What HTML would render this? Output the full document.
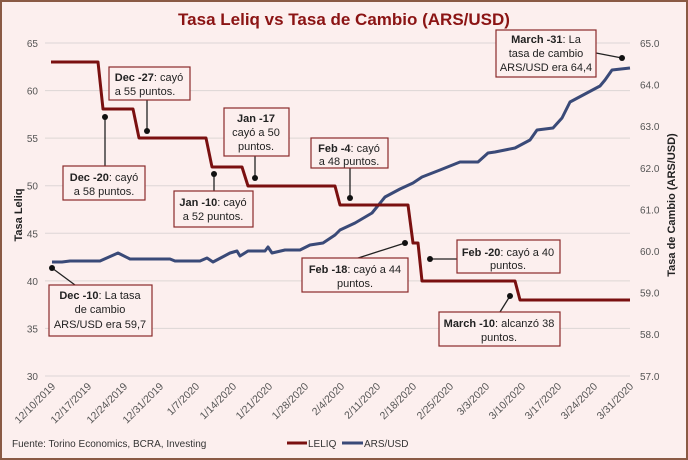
<!DOCTYPE html>
<html><head><meta charset="utf-8"><style>
body{margin:0;background:#fff}
svg{display:block;font-family:"Liberation Sans",sans-serif}
</style></head><body>
<svg width="688" height="460" viewBox="0 0 688 460">
<rect x="1" y="1" width="686" height="458" fill="#fcefee" stroke="#8a5a44" stroke-width="2"/>
<text x="344" y="25" text-anchor="middle" font-size="17" font-weight="bold" fill="#8b1414">Tasa Leliq vs Tasa de Cambio (ARS/USD)</text>
<g stroke="#ddd6d5" stroke-width="1">
<line x1="45" y1="43" x2="630" y2="43"/><line x1="45" y1="90.6" x2="630" y2="90.6"/><line x1="45" y1="138.1" x2="630" y2="138.1"/><line x1="45" y1="185.7" x2="630" y2="185.7"/><line x1="45" y1="233.3" x2="630" y2="233.3"/><line x1="45" y1="280.9" x2="630" y2="280.9"/><line x1="45" y1="328.4" x2="630" y2="328.4"/><line x1="45" y1="376" x2="630" y2="376"/>
</g>
<g font-size="10" fill="#555" text-anchor="end">
<text x="38" y="47">65</text><text x="38" y="94.6">60</text><text x="38" y="142">55</text><text x="38" y="189.7">50</text><text x="38" y="237.3">45</text><text x="38" y="284.9">40</text><text x="38" y="332.4">35</text><text x="38" y="380">30</text>
</g>
<g font-size="10" fill="#555">
<text x="640" y="47">65.0</text><text x="640" y="88.6">64.0</text><text x="640" y="130.2">63.0</text><text x="640" y="171.8">62.0</text><text x="640" y="213.4">61.0</text><text x="640" y="255">60.0</text><text x="640" y="296.6">59.0</text><text x="640" y="338.2">58.0</text><text x="640" y="380">57.0</text>
</g>
<text transform="translate(22,215) rotate(-90)" text-anchor="middle" font-size="11" font-weight="bold" fill="#222">Tasa Leliq</text>
<text transform="translate(675,205) rotate(-90)" text-anchor="middle" font-size="11" font-weight="bold" fill="#222">Tasa de Cambio (ARS/USD)</text>
<g font-size="10.5" fill="#555" text-anchor="end">
<text transform="translate(56,387) rotate(-45)">12/10/2019</text>
<text transform="translate(92,387) rotate(-45)">12/17/2019</text>
<text transform="translate(128,387) rotate(-45)">12/24/2019</text>
<text transform="translate(164,387) rotate(-45)">12/31/2019</text>
<text transform="translate(200,387) rotate(-45)">1/7/2020</text>
<text transform="translate(237,387) rotate(-45)">1/14/2020</text>
<text transform="translate(273,387) rotate(-45)">1/21/2020</text>
<text transform="translate(309,387) rotate(-45)">1/28/2020</text>
<text transform="translate(345,387) rotate(-45)">2/4/2020</text>
<text transform="translate(381,387) rotate(-45)">2/11/2020</text>
<text transform="translate(417,387) rotate(-45)">2/18/2020</text>
<text transform="translate(454,387) rotate(-45)">2/25/2020</text>
<text transform="translate(490,387) rotate(-45)">3/3/2020</text>
<text transform="translate(526,387) rotate(-45)">3/10/2020</text>
<text transform="translate(562,387) rotate(-45)">3/17/2020</text>
<text transform="translate(598,387) rotate(-45)">3/24/2020</text>
<text transform="translate(634,387) rotate(-45)">3/31/2020</text>
</g>
<polyline fill="none" stroke="#3a4a78" stroke-width="3" stroke-linejoin="round" points="52,262 62,262 70,261 100,261 118,253 130,259 170,259 175,261 200,261 207,258 213,262 230,253 237,251 240,256 248,251 265,251 268,247 272,253 285,250 300,250 310,245 323,243 335,235 340,230 355,223 372,213 385,197 400,189 413,183 422,177 440,170 460,162 478,162 488,153 495,152 515,148 530,140 537,130 553,128 562,118 570,102 600,86 605,80 612,70 630,68"/>
<polyline fill="none" stroke="#7a1010" stroke-width="3" stroke-linejoin="round" points="51,62 98,62 103,109 133,109 139,138 206,138 212,167 242,167 248,186 335,186 340,205 408,205 413,243 418,243 422,281 515,281 520,300 630,300"/>
<g stroke="#222" stroke-width="1.3">
<line x1="147" y1="100" x2="147" y2="131"/><line x1="105" y1="117" x2="105" y2="166"/>
<line x1="255" y1="156" x2="255" y2="178"/><line x1="214" y1="174" x2="214" y2="191"/>
<line x1="350" y1="168" x2="350" y2="198"/><line x1="52" y1="268" x2="75" y2="285"/>
<line x1="405" y1="243" x2="355" y2="259"/><line x1="430" y1="259" x2="457" y2="259"/>
<line x1="510" y1="296" x2="500" y2="312"/><line x1="596" y1="53" x2="622" y2="58"/>
</g>
<g fill="#111">
<circle cx="147" cy="131" r="3"/><circle cx="105" cy="117" r="3"/><circle cx="255" cy="178" r="3"/><circle cx="214" cy="174" r="3"/><circle cx="350" cy="198" r="3"/><circle cx="52" cy="268" r="3"/><circle cx="405" cy="243" r="3"/><circle cx="430" cy="259" r="3"/><circle cx="510" cy="296" r="3"/><circle cx="622" cy="58" r="3"/>
</g>
<g fill="#fcefee" stroke="#8a2a2a" stroke-width="1.2">
<rect x="109" y="67" width="81" height="33"/><rect x="63" y="166" width="82" height="34"/>
<rect x="224" y="108" width="65" height="48"/><rect x="174" y="191" width="79" height="36"/>
<rect x="311" y="138" width="77" height="30"/><rect x="49" y="285" width="103" height="51"/>
<rect x="302" y="258" width="106" height="34"/><rect x="457" y="240" width="103" height="33"/>
<rect x="439" y="312" width="121" height="34"/><rect x="496" y="30" width="100" height="47"/>
</g>
<g font-size="11" fill="#222" text-anchor="middle">
<text x="149" y="81"><tspan font-weight="bold">Dec -27</tspan>: cayó</text><text x="145" y="95">a 55 puntos.</text>
<text x="104" y="181"><tspan font-weight="bold">Dec -20</tspan>: cayó</text><text x="104" y="195">a 58 puntos.</text>
<text x="256" y="122" font-weight="bold">Jan -17</text><text x="256" y="136">cayó a 50</text><text x="256" y="150">puntos.</text>
<text x="213" y="206"><tspan font-weight="bold">Jan -10</tspan>: cayó</text><text x="213" y="220">a 52 puntos.</text>
<text x="349" y="152"><tspan font-weight="bold">Feb -4</tspan>: cayó</text><text x="349" y="165">a 48 puntos.</text>
<text x="100" y="299"><tspan font-weight="bold">Dec -10</tspan>:  La tasa</text><text x="100" y="313">de cambio</text><text x="100" y="328">ARS/USD era 59,7</text>
<text x="355" y="273"><tspan font-weight="bold">Feb -18</tspan>: cayó a 44</text><text x="355" y="287">puntos.</text>
<text x="508" y="256"><tspan font-weight="bold">Feb -20</tspan>: cayó a 40</text><text x="508" y="269">puntos.</text>
<text x="499" y="327"><tspan font-weight="bold">March -10</tspan>: alcanzó 38</text><text x="499" y="341">puntos.</text>
<text x="546" y="43"><tspan font-weight="bold">March -31</tspan>:  La</text><text x="546" y="57">tasa de cambio</text><text x="546" y="71">ARS/USD era 64,4</text>
</g>
<text x="12" y="447" font-size="10" fill="#333">Fuente: Torino Economics, BCRA, Investing</text>
<line x1="287" y1="443" x2="307" y2="443" stroke="#7a1010" stroke-width="3"/>
<text x="308" y="447" font-size="10" fill="#333">LELIQ</text>
<line x1="342" y1="443" x2="363" y2="443" stroke="#3a4a78" stroke-width="3"/>
<text x="364" y="447" font-size="10" fill="#333">ARS/USD</text>
</svg>
</body></html>
